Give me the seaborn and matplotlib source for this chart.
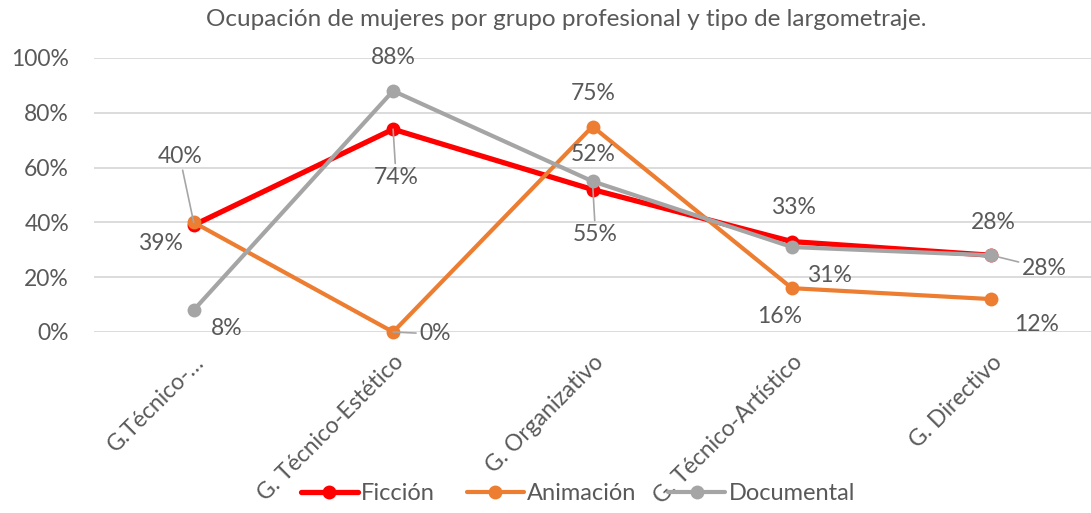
import matplotlib
matplotlib.use("Agg")
import matplotlib.pyplot as plt
import seaborn as sns
import pandas as pd
from matplotlib.lines import Line2D
from matplotlib.ticker import PercentFormatter

categories = ["G.Técnico-…", "G. Técnico-Estético", "G. Organizativo",
              "G. Técnico-Artístico", "G. Directivo"]
ficcion = [0.39, 0.74, 0.52, 0.33, 0.28]
animacion = [0.40, 0.00, 0.75, 0.16, 0.12]
documental = [0.08, 0.88, 0.55, 0.31, 0.28]
series_names = ["Ficción", "Animación", "Documental"]
title = "Ocupación de mujeres por grupo profesional y tipo de largometraje."

colors = {"Ficción": "#FF0000", "Animación": "#ED7D31", "Documental": "#A5A5A5"}
widths = {"Ficción": 3.8, "Animación": 3.0, "Documental": 3.0}
# label offsets in pixels (dx, dy) and whether a leader line is drawn
offsets = {
    "Ficción": [(-33, -18, False), (3, -48, True), (1, 35, False), (2, 34, False), (2, 33, False)],
    "Animación": [(-14, 66, True), (42, -2, True), (1, 33, False), (-12, -28, False), (45, -25, False)],
    "Documental": [(33, -18, False), (0, 33, False), (3, -53, True), (38, -28, False), (53, -13, True)],
}

sns.set_theme(style="white")
plt.rcParams["font.family"] = ["Lato", "DejaVu Sans"]
txt = "#595959"

df = pd.DataFrame({
    "cat": categories * 3,
    "x": list(range(len(categories))) * 3,
    "val": ficcion + animacion + documental,
    "serie": [s for s in series_names for _ in categories],
})

fig = plt.figure(figsize=(10.91, 5.13), dpi=100)
ax = fig.add_axes([94 / 1091, 1 - 332 / 513, 1 - 94 / 1091, (332 - 58) / 513])

for s in series_names:
    sub = df[df["serie"] == s]
    sns.lineplot(data=sub, x="x", y="val", ax=ax, color=colors[s], linewidth=widths[s],
                 marker="o", markersize=10, markeredgewidth=0, clip_on=False, zorder=3,
                 legend=False)

for s in series_names:
    sub = df[df["serie"] == s]
    for (xv, yv), (dx, dy, lead) in zip(zip(sub["x"], sub["val"]), offsets[s]):
        kw = {}
        if lead:
            kw["arrowprops"] = dict(arrowstyle="-", color="#A6A6A6", lw=1.2,
                                    shrinkA=0, shrinkB=0)
        ax.annotate(f"{round(yv * 100):.0f}%", xy=(xv, yv), xytext=(dx, dy),
                    textcoords="offset pixels", ha="center", va="center",
                    fontsize=16.5, color=txt, zorder=5, annotation_clip=False, **kw)

ax.set_xlim(-0.5, len(categories) - 0.5)
ax.set_ylim(0, 1)
ax.set_yticks([0, 0.2, 0.4, 0.6, 0.8, 1.0])
ax.yaxis.set_major_formatter(PercentFormatter(1.0, decimals=0))
ax.set_xticks(range(len(categories)))
ax.set_xticklabels(categories, rotation=45, ha="right", rotation_mode="anchor",
                   fontsize=16.5, color=txt)
ax.tick_params(axis="y", labelsize=16.5, labelcolor=txt, length=0, pad=18)
ax.tick_params(axis="x", length=0, pad=14)
ax.grid(axis="y", color="#D9D9D9", linewidth=1.3)
ax.grid(axis="x", visible=False)
for sp in ax.spines.values():
    sp.set_visible(False)
ax.set_xlabel("")
ax.set_ylabel("")
ax.set_axisbelow(True)

fig.text(566 / 1091, 1 - 20 / 513, title, ha="center", va="center", fontsize=17.5, color=txt)

handles = [Line2D([0], [0], color=colors[s], lw=widths[s], marker="o", markersize=10,
                  markeredgewidth=0) for s in series_names]
fig.legend(handles, series_names, loc="center", bbox_to_anchor=(578 / 1091, 1 - 494 / 513),
           ncol=3, frameon=False, fontsize=17, handlelength=2.4, handletextpad=0.15,
           columnspacing=1.35, labelcolor=txt)

fig.savefig("out.png", dpi=100)
